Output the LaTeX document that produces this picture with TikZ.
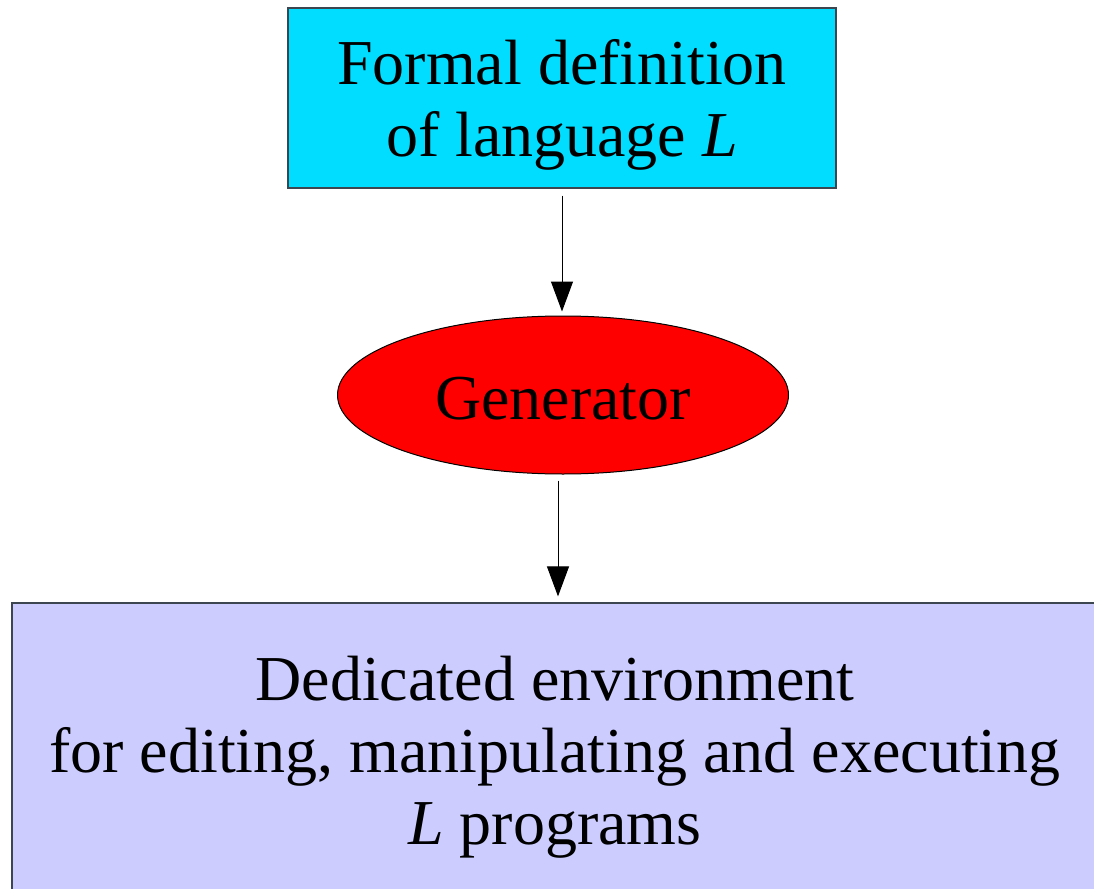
\documentclass[tikz,border=0pt]{standalone}
\usepackage{fontspec}
\setmainfont{Liberation Serif}
\usetikzlibrary{arrows.meta,shapes.geometric}
\definecolor{topcyan}{RGB}{0,221,255}
\definecolor{genred}{RGB}{255,0,0}
\definecolor{envblue}{RGB}{204,204,255}
\definecolor{edgegray}{RGB}{60,70,80}
\tikzset{
  bigtext/.style={font=\fontsize{32}{36}\selectfont, align=center, text=black},
  boxnode/.style={rectangle, draw=edgegray, line width=0.6pt, inner sep=0pt, bigtext},
  ellnode/.style={ellipse, draw=black, line width=0.5pt, inner sep=0pt, bigtext},
  arr/.style={draw=black, line width=0.5pt, -{Triangle[width=11pt,length=15pt]}}
}
\begin{document}
\begin{tikzpicture}[x=0.5pt,y=-0.5pt]
\useasboundingbox (0,0) rectangle (1094,889);
\clip (0,0) rectangle (1094,889);
\node[boxnode, fill=topcyan, minimum width=274pt, minimum height=90pt] (top) at (562,98)
  {\raisebox{-3.5pt}[\height][\depth]{\parbox{250pt}{\centering Formal definition\\of language \textit{L}}}};
\node[ellnode, fill=genred, minimum width=225.5pt, minimum height=79pt] (gen) at (563,395)
  {\raisebox{-2pt}[\height][\depth]{Generator}};
\node[boxnode, fill=envblue, minimum width=543pt, minimum height=154pt] (env) at (555,757)
  {Dedicated environment\\for editing, manipulating and executing\\\textit{L} programs};
\draw[arr, shorten <=3.5pt, shorten >=2pt] (top.south) -- (top.south |- gen.north);
\draw[arr, shorten <=3pt, shorten >=3pt] ([xshift=-2.5pt]gen.south) -- ([xshift=-2.5pt]gen.south |- env.north);
\end{tikzpicture}
\end{document}
